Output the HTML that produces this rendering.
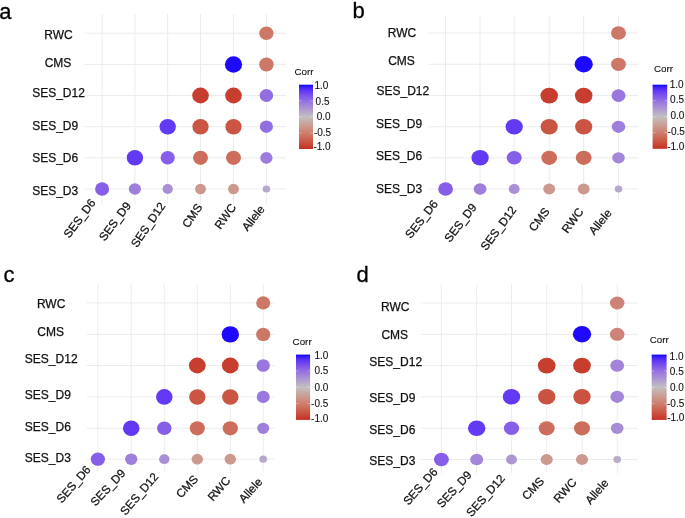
<!DOCTYPE html>
<html><head><meta charset="utf-8"><title>Correlation plots</title>
<style>html,body{margin:0;padding:0;background:#fff;width:685px;height:518px;overflow:hidden}svg{display:block;will-change:transform;filter:blur(0.4px)}</style>
</head><body>
<svg width="685" height="518" viewBox="0 0 685 518" font-family='"Liberation Sans", sans-serif'>
<rect width="685" height="518" fill="#fff"/>
<line x1="102.1" y1="14.0" x2="102.1" y2="204.9" stroke="#ececec" stroke-width="1.0"/>
<line x1="134.9" y1="14.0" x2="134.9" y2="204.9" stroke="#ececec" stroke-width="1.0"/>
<line x1="167.7" y1="14.0" x2="167.7" y2="204.9" stroke="#ececec" stroke-width="1.0"/>
<line x1="200.5" y1="14.0" x2="200.5" y2="204.9" stroke="#ececec" stroke-width="1.0"/>
<line x1="233.5" y1="14.0" x2="233.5" y2="204.9" stroke="#ececec" stroke-width="1.0"/>
<line x1="266.4" y1="14.0" x2="266.4" y2="204.9" stroke="#ececec" stroke-width="1.0"/>
<line x1="84.5" y1="33.2" x2="286.0" y2="33.2" stroke="#ececec" stroke-width="1.0"/>
<line x1="84.5" y1="64.5" x2="286.0" y2="64.5" stroke="#ececec" stroke-width="1.0"/>
<line x1="84.5" y1="95.5" x2="286.0" y2="95.5" stroke="#ececec" stroke-width="1.0"/>
<line x1="84.5" y1="126.7" x2="286.0" y2="126.7" stroke="#ececec" stroke-width="1.0"/>
<line x1="84.5" y1="157.8" x2="286.0" y2="157.8" stroke="#ececec" stroke-width="1.0"/>
<line x1="84.5" y1="189.0" x2="286.0" y2="189.0" stroke="#ececec" stroke-width="1.0"/>
<ellipse cx="266.4" cy="33.2" rx="7.14" ry="6.80" fill="#cd7766"/>
<ellipse cx="233.5" cy="64.5" rx="8.61" ry="8.20" fill="#1d0afe"/>
<ellipse cx="266.4" cy="64.5" rx="7.25" ry="6.90" fill="#cd7766"/>
<ellipse cx="200.5" cy="95.5" rx="8.29" ry="7.90" fill="#c73d2e"/>
<ellipse cx="233.5" cy="95.5" rx="8.29" ry="7.90" fill="#c73d2e"/>
<ellipse cx="266.4" cy="95.5" rx="6.77" ry="6.45" fill="#936ee2"/>
<ellipse cx="167.7" cy="126.7" rx="8.19" ry="7.80" fill="#623af4"/>
<ellipse cx="200.5" cy="126.7" rx="8.14" ry="7.75" fill="#ca5543"/>
<ellipse cx="233.5" cy="126.7" rx="8.14" ry="7.75" fill="#ca5543"/>
<ellipse cx="266.4" cy="126.7" rx="6.56" ry="6.25" fill="#936ee2"/>
<ellipse cx="134.9" cy="157.8" rx="8.19" ry="7.80" fill="#623af4"/>
<ellipse cx="167.7" cy="157.8" rx="7.14" ry="6.80" fill="#865ee8"/>
<ellipse cx="200.5" cy="157.8" rx="7.46" ry="7.10" fill="#cd6d5b"/>
<ellipse cx="233.5" cy="157.8" rx="7.51" ry="7.15" fill="#cd6d5b"/>
<ellipse cx="266.4" cy="157.8" rx="6.14" ry="5.85" fill="#9d7cdd"/>
<ellipse cx="102.1" cy="189.0" rx="6.98" ry="6.65" fill="#865ee8"/>
<ellipse cx="134.9" cy="189.0" rx="6.09" ry="5.80" fill="#9f7fdc"/>
<ellipse cx="167.7" cy="189.0" rx="5.15" ry="4.90" fill="#a98fd5"/>
<ellipse cx="200.5" cy="189.0" rx="5.46" ry="5.20" fill="#cb998e"/>
<ellipse cx="233.5" cy="189.0" rx="5.46" ry="5.20" fill="#cb998e"/>
<ellipse cx="266.4" cy="189.0" rx="3.78" ry="3.60" fill="#b6a8cb"/>
<text x="-0.84" y="18.99" font-size="22" fill="#000" stroke="#000" stroke-width="0.3">a</text>
<text x="44.32" y="38.80" font-size="12" fill="#111" stroke="#111" stroke-width="0.25">RWC</text>
<text x="44.69" y="66.90" font-size="12" fill="#111" stroke="#111" stroke-width="0.25">CMS</text>
<text x="32.16" y="97.00" font-size="12" fill="#111" stroke="#111" stroke-width="0.25">SES_D12</text>
<text x="32.16" y="130.00" font-size="12" fill="#111" stroke="#111" stroke-width="0.25">SES_D9</text>
<text x="32.16" y="162.10" font-size="12" fill="#111" stroke="#111" stroke-width="0.25">SES_D6</text>
<text x="32.16" y="194.60" font-size="12" fill="#111" stroke="#111" stroke-width="0.25">SES_D3</text>
<text transform="translate(96.17,202.91) rotate(-53.2)" text-anchor="end" font-size="11.7" fill="#111" stroke="#111" stroke-width="0.25">SES_D6</text>
<text transform="translate(131.51,205.68) rotate(-53.5)" text-anchor="end" font-size="11.7" fill="#111" stroke="#111" stroke-width="0.25">SES_D9</text>
<text transform="translate(165.86,205.85) rotate(-55.7)" text-anchor="end" font-size="11.7" fill="#111" stroke="#111" stroke-width="0.25">SES_D12</text>
<text transform="translate(202.81,207.11) rotate(-56.2)" text-anchor="end" font-size="11.7" fill="#111" stroke="#111" stroke-width="0.25">CMS</text>
<text transform="translate(236.57,207.49) rotate(-54.5)" text-anchor="end" font-size="11.7" fill="#111" stroke="#111" stroke-width="0.25">RWC</text>
<text transform="translate(265.26,209.40) rotate(-51.5)" text-anchor="end" font-size="11.7" fill="#111" stroke="#111" stroke-width="0.25">Allele</text>
<text x="294.40" y="74.60" font-size="9.8" fill="#111" stroke="#111" stroke-width="0.1">Corr</text>
<defs><linearGradient id="ga" x1="0" y1="0" x2="0" y2="1">
<stop offset="0.000" stop-color="#0000ff"/>
<stop offset="0.025" stop-color="#3116fc"/>
<stop offset="0.050" stop-color="#4624f9"/>
<stop offset="0.075" stop-color="#5530f7"/>
<stop offset="0.100" stop-color="#623af4"/>
<stop offset="0.125" stop-color="#6c43f1"/>
<stop offset="0.150" stop-color="#764cee"/>
<stop offset="0.175" stop-color="#7e55eb"/>
<stop offset="0.200" stop-color="#865ee8"/>
<stop offset="0.225" stop-color="#8d66e5"/>
<stop offset="0.250" stop-color="#936ee2"/>
<stop offset="0.275" stop-color="#9977df"/>
<stop offset="0.300" stop-color="#9f7fdc"/>
<stop offset="0.325" stop-color="#a487d8"/>
<stop offset="0.350" stop-color="#a98fd5"/>
<stop offset="0.375" stop-color="#ad97d2"/>
<stop offset="0.400" stop-color="#b29fce"/>
<stop offset="0.425" stop-color="#b6a8cb"/>
<stop offset="0.450" stop-color="#b9b0c7"/>
<stop offset="0.475" stop-color="#bdb8c4"/>
<stop offset="0.500" stop-color="#c0c0c0"/>
<stop offset="0.525" stop-color="#c3b9b7"/>
<stop offset="0.550" stop-color="#c5b3af"/>
<stop offset="0.575" stop-color="#c7aca7"/>
<stop offset="0.600" stop-color="#c9a69e"/>
<stop offset="0.625" stop-color="#ca9f96"/>
<stop offset="0.650" stop-color="#cb998e"/>
<stop offset="0.675" stop-color="#cc9286"/>
<stop offset="0.700" stop-color="#cd8b7e"/>
<stop offset="0.725" stop-color="#cd8476"/>
<stop offset="0.750" stop-color="#cd7e6e"/>
<stop offset="0.775" stop-color="#cd7766"/>
<stop offset="0.800" stop-color="#cd705e"/>
<stop offset="0.825" stop-color="#cc6857"/>
<stop offset="0.850" stop-color="#cc614f"/>
<stop offset="0.875" stop-color="#cb5947"/>
<stop offset="0.900" stop-color="#ca5240"/>
<stop offset="0.925" stop-color="#c94938"/>
<stop offset="0.950" stop-color="#c74131"/>
<stop offset="0.975" stop-color="#c63729"/>
<stop offset="1.000" stop-color="#c42c22"/>
</linearGradient></defs>
<rect x="299" y="84.7" width="14" height="64.3" fill="url(#ga)"/>
<line x1="299" y1="100.78" x2="301.80" y2="100.78" stroke="#fff" stroke-width="0.7" opacity="0.45"/>
<line x1="310.20" y1="100.78" x2="313.00" y2="100.78" stroke="#fff" stroke-width="0.7" opacity="0.45"/>
<line x1="299" y1="116.85" x2="301.80" y2="116.85" stroke="#fff" stroke-width="0.7" opacity="0.45"/>
<line x1="310.20" y1="116.85" x2="313.00" y2="116.85" stroke="#fff" stroke-width="0.7" opacity="0.45"/>
<line x1="299" y1="132.93" x2="301.80" y2="132.93" stroke="#fff" stroke-width="0.7" opacity="0.45"/>
<line x1="310.20" y1="132.93" x2="313.00" y2="132.93" stroke="#fff" stroke-width="0.7" opacity="0.45"/>
<text x="314.49" y="88.54" font-size="10" fill="#111" stroke="#111" stroke-width="0.1">1.0</text>
<text x="315.62" y="104.84" font-size="10" fill="#111" stroke="#111" stroke-width="0.1">0.5</text>
<text x="316.79" y="120.44" font-size="10" fill="#111" stroke="#111" stroke-width="0.1">0.0</text>
<text x="313.89" y="136.14" font-size="10" fill="#111" stroke="#111" stroke-width="0.1">-0.5</text>
<text x="313.46" y="150.04" font-size="10" fill="#111" stroke="#111" stroke-width="0.1">-1.0</text>
<line x1="445.6" y1="14.9" x2="445.6" y2="199.8" stroke="#ececec" stroke-width="1.0"/>
<line x1="480.1" y1="14.9" x2="480.1" y2="199.8" stroke="#ececec" stroke-width="1.0"/>
<line x1="514.2" y1="14.9" x2="514.2" y2="199.8" stroke="#ececec" stroke-width="1.0"/>
<line x1="549.2" y1="14.9" x2="549.2" y2="199.8" stroke="#ececec" stroke-width="1.0"/>
<line x1="583.7" y1="14.9" x2="583.7" y2="199.8" stroke="#ececec" stroke-width="1.0"/>
<line x1="618.5" y1="14.9" x2="618.5" y2="199.8" stroke="#ececec" stroke-width="1.0"/>
<line x1="428.3" y1="33.0" x2="638.5" y2="33.0" stroke="#ececec" stroke-width="1.0"/>
<line x1="428.3" y1="64.3" x2="638.5" y2="64.3" stroke="#ececec" stroke-width="1.0"/>
<line x1="428.3" y1="95.6" x2="638.5" y2="95.6" stroke="#ececec" stroke-width="1.0"/>
<line x1="428.3" y1="126.8" x2="638.5" y2="126.8" stroke="#ececec" stroke-width="1.0"/>
<line x1="428.3" y1="157.8" x2="638.5" y2="157.8" stroke="#ececec" stroke-width="1.0"/>
<line x1="428.3" y1="189.0" x2="638.5" y2="189.0" stroke="#ececec" stroke-width="1.0"/>
<ellipse cx="618.5" cy="33.0" rx="7.49" ry="6.75" fill="#cd7766"/>
<ellipse cx="583.7" cy="64.3" rx="9.10" ry="8.20" fill="#1d0afe"/>
<ellipse cx="618.5" cy="64.3" rx="7.38" ry="6.65" fill="#cd7766"/>
<ellipse cx="549.2" cy="95.6" rx="8.77" ry="7.90" fill="#c73d2e"/>
<ellipse cx="583.7" cy="95.6" rx="8.77" ry="7.90" fill="#c73d2e"/>
<ellipse cx="618.5" cy="95.6" rx="6.99" ry="6.30" fill="#9977df"/>
<ellipse cx="514.2" cy="126.8" rx="8.66" ry="7.80" fill="#623af4"/>
<ellipse cx="549.2" cy="126.8" rx="8.60" ry="7.75" fill="#ca5543"/>
<ellipse cx="583.7" cy="126.8" rx="8.60" ry="7.75" fill="#ca5543"/>
<ellipse cx="618.5" cy="126.8" rx="6.77" ry="6.10" fill="#9f7fdc"/>
<ellipse cx="480.1" cy="157.8" rx="8.66" ry="7.80" fill="#623af4"/>
<ellipse cx="514.2" cy="157.8" rx="7.55" ry="6.80" fill="#865ee8"/>
<ellipse cx="549.2" cy="157.8" rx="7.88" ry="7.10" fill="#cd6d5b"/>
<ellipse cx="583.7" cy="157.8" rx="7.94" ry="7.15" fill="#cd6d5b"/>
<ellipse cx="618.5" cy="157.8" rx="6.27" ry="5.65" fill="#a487d8"/>
<ellipse cx="445.6" cy="189.0" rx="7.38" ry="6.65" fill="#865ee8"/>
<ellipse cx="480.1" cy="189.0" rx="6.44" ry="5.80" fill="#9f7fdc"/>
<ellipse cx="514.2" cy="189.0" rx="5.44" ry="4.90" fill="#a98fd5"/>
<ellipse cx="549.2" cy="189.0" rx="5.99" ry="5.40" fill="#cb998e"/>
<ellipse cx="583.7" cy="189.0" rx="5.99" ry="5.40" fill="#cb998e"/>
<ellipse cx="618.5" cy="189.0" rx="3.77" ry="3.40" fill="#b6a8cb"/>
<text x="352.48" y="17.99" font-size="22" fill="#000" stroke="#000" stroke-width="0.3">b</text>
<text x="387.82" y="36.80" font-size="12" fill="#111" stroke="#111" stroke-width="0.25">RWC</text>
<text x="388.19" y="64.80" font-size="12" fill="#111" stroke="#111" stroke-width="0.25">CMS</text>
<text x="376.46" y="94.70" font-size="12" fill="#111" stroke="#111" stroke-width="0.25">SES_D12</text>
<text x="376.06" y="127.90" font-size="12" fill="#111" stroke="#111" stroke-width="0.25">SES_D9</text>
<text x="376.06" y="160.00" font-size="12" fill="#111" stroke="#111" stroke-width="0.25">SES_D6</text>
<text x="376.06" y="192.50" font-size="12" fill="#111" stroke="#111" stroke-width="0.25">SES_D3</text>
<text transform="translate(438.44,204.02) rotate(-52)" text-anchor="end" font-size="11.7" fill="#111" stroke="#111" stroke-width="0.25">SES_D6</text>
<text transform="translate(477.28,207.41) rotate(-52.7)" text-anchor="end" font-size="11.7" fill="#111" stroke="#111" stroke-width="0.25">SES_D9</text>
<text transform="translate(517.00,210.06) rotate(-53.2)" text-anchor="end" font-size="11.7" fill="#111" stroke="#111" stroke-width="0.25">SES_D12</text>
<text transform="translate(550.34,211.63) rotate(-52.7)" text-anchor="end" font-size="11.7" fill="#111" stroke="#111" stroke-width="0.25">CMS</text>
<text transform="translate(584.07,211.74) rotate(-53.2)" text-anchor="end" font-size="11.7" fill="#111" stroke="#111" stroke-width="0.25">RWC</text>
<text transform="translate(612.32,213.31) rotate(-50.7)" text-anchor="end" font-size="11.7" fill="#111" stroke="#111" stroke-width="0.25">Allele</text>
<text x="653.90" y="72.40" font-size="9.8" fill="#111" stroke="#111" stroke-width="0.1">Corr</text>
<defs><linearGradient id="gb" x1="0" y1="0" x2="0" y2="1">
<stop offset="0.000" stop-color="#0000ff"/>
<stop offset="0.025" stop-color="#3116fc"/>
<stop offset="0.050" stop-color="#4624f9"/>
<stop offset="0.075" stop-color="#5530f7"/>
<stop offset="0.100" stop-color="#623af4"/>
<stop offset="0.125" stop-color="#6c43f1"/>
<stop offset="0.150" stop-color="#764cee"/>
<stop offset="0.175" stop-color="#7e55eb"/>
<stop offset="0.200" stop-color="#865ee8"/>
<stop offset="0.225" stop-color="#8d66e5"/>
<stop offset="0.250" stop-color="#936ee2"/>
<stop offset="0.275" stop-color="#9977df"/>
<stop offset="0.300" stop-color="#9f7fdc"/>
<stop offset="0.325" stop-color="#a487d8"/>
<stop offset="0.350" stop-color="#a98fd5"/>
<stop offset="0.375" stop-color="#ad97d2"/>
<stop offset="0.400" stop-color="#b29fce"/>
<stop offset="0.425" stop-color="#b6a8cb"/>
<stop offset="0.450" stop-color="#b9b0c7"/>
<stop offset="0.475" stop-color="#bdb8c4"/>
<stop offset="0.500" stop-color="#c0c0c0"/>
<stop offset="0.525" stop-color="#c3b9b7"/>
<stop offset="0.550" stop-color="#c5b3af"/>
<stop offset="0.575" stop-color="#c7aca7"/>
<stop offset="0.600" stop-color="#c9a69e"/>
<stop offset="0.625" stop-color="#ca9f96"/>
<stop offset="0.650" stop-color="#cb998e"/>
<stop offset="0.675" stop-color="#cc9286"/>
<stop offset="0.700" stop-color="#cd8b7e"/>
<stop offset="0.725" stop-color="#cd8476"/>
<stop offset="0.750" stop-color="#cd7e6e"/>
<stop offset="0.775" stop-color="#cd7766"/>
<stop offset="0.800" stop-color="#cd705e"/>
<stop offset="0.825" stop-color="#cc6857"/>
<stop offset="0.850" stop-color="#cc614f"/>
<stop offset="0.875" stop-color="#cb5947"/>
<stop offset="0.900" stop-color="#ca5240"/>
<stop offset="0.925" stop-color="#c94938"/>
<stop offset="0.950" stop-color="#c74131"/>
<stop offset="0.975" stop-color="#c63729"/>
<stop offset="1.000" stop-color="#c42c22"/>
</linearGradient></defs>
<rect x="652.6" y="84.7" width="14.6" height="64.1" fill="url(#gb)"/>
<line x1="652.6" y1="100.72" x2="655.52" y2="100.72" stroke="#fff" stroke-width="0.7" opacity="0.45"/>
<line x1="664.28" y1="100.72" x2="667.20" y2="100.72" stroke="#fff" stroke-width="0.7" opacity="0.45"/>
<line x1="652.6" y1="116.75" x2="655.52" y2="116.75" stroke="#fff" stroke-width="0.7" opacity="0.45"/>
<line x1="664.28" y1="116.75" x2="667.20" y2="116.75" stroke="#fff" stroke-width="0.7" opacity="0.45"/>
<line x1="652.6" y1="132.78" x2="655.52" y2="132.78" stroke="#fff" stroke-width="0.7" opacity="0.45"/>
<line x1="664.28" y1="132.78" x2="667.20" y2="132.78" stroke="#fff" stroke-width="0.7" opacity="0.45"/>
<text x="669.69" y="88.14" font-size="10" fill="#111" stroke="#111" stroke-width="0.1">1.0</text>
<text x="670.12" y="102.84" font-size="10" fill="#111" stroke="#111" stroke-width="0.1">0.5</text>
<text x="670.49" y="119.44" font-size="10" fill="#111" stroke="#111" stroke-width="0.1">0.0</text>
<text x="667.59" y="135.24" font-size="10" fill="#111" stroke="#111" stroke-width="0.1">-0.5</text>
<text x="667.16" y="149.84" font-size="10" fill="#111" stroke="#111" stroke-width="0.1">-1.0</text>
<line x1="97.9" y1="284.4" x2="97.9" y2="471.2" stroke="#ececec" stroke-width="1.0"/>
<line x1="131.2" y1="284.4" x2="131.2" y2="471.2" stroke="#ececec" stroke-width="1.0"/>
<line x1="164.3" y1="284.4" x2="164.3" y2="471.2" stroke="#ececec" stroke-width="1.0"/>
<line x1="197.3" y1="284.4" x2="197.3" y2="471.2" stroke="#ececec" stroke-width="1.0"/>
<line x1="230.3" y1="284.4" x2="230.3" y2="471.2" stroke="#ececec" stroke-width="1.0"/>
<line x1="263.2" y1="284.4" x2="263.2" y2="471.2" stroke="#ececec" stroke-width="1.0"/>
<line x1="86.8" y1="302.9" x2="275.0" y2="302.9" stroke="#ececec" stroke-width="1.0"/>
<line x1="86.8" y1="334.4" x2="275.0" y2="334.4" stroke="#ececec" stroke-width="1.0"/>
<line x1="86.8" y1="365.5" x2="275.0" y2="365.5" stroke="#ececec" stroke-width="1.0"/>
<line x1="86.8" y1="396.9" x2="275.0" y2="396.9" stroke="#ececec" stroke-width="1.0"/>
<line x1="86.8" y1="428.3" x2="275.0" y2="428.3" stroke="#ececec" stroke-width="1.0"/>
<line x1="86.8" y1="459.2" x2="275.0" y2="459.2" stroke="#ececec" stroke-width="1.0"/>
<ellipse cx="263.2" cy="302.9" rx="7.00" ry="6.60" fill="#cd7766"/>
<ellipse cx="230.3" cy="334.4" rx="8.69" ry="8.20" fill="#1d0afe"/>
<ellipse cx="263.2" cy="334.4" rx="7.10" ry="6.70" fill="#cd7766"/>
<ellipse cx="197.3" cy="365.5" rx="8.37" ry="7.90" fill="#c73d2e"/>
<ellipse cx="230.3" cy="365.5" rx="8.37" ry="7.90" fill="#c73d2e"/>
<ellipse cx="263.2" cy="365.5" rx="6.68" ry="6.30" fill="#9977df"/>
<ellipse cx="164.3" cy="396.9" rx="8.27" ry="7.80" fill="#623af4"/>
<ellipse cx="197.3" cy="396.9" rx="8.21" ry="7.75" fill="#ca5543"/>
<ellipse cx="230.3" cy="396.9" rx="8.21" ry="7.75" fill="#ca5543"/>
<ellipse cx="263.2" cy="396.9" rx="6.47" ry="6.10" fill="#9977df"/>
<ellipse cx="131.2" cy="428.3" rx="8.27" ry="7.80" fill="#623af4"/>
<ellipse cx="164.3" cy="428.3" rx="7.21" ry="6.80" fill="#865ee8"/>
<ellipse cx="197.3" cy="428.3" rx="7.53" ry="7.10" fill="#cd6d5b"/>
<ellipse cx="230.3" cy="428.3" rx="7.58" ry="7.15" fill="#cd6d5b"/>
<ellipse cx="263.2" cy="428.3" rx="5.99" ry="5.65" fill="#9f7fdc"/>
<ellipse cx="97.9" cy="459.2" rx="7.05" ry="6.65" fill="#865ee8"/>
<ellipse cx="131.2" cy="459.2" rx="6.15" ry="5.80" fill="#9f7fdc"/>
<ellipse cx="164.3" cy="459.2" rx="5.19" ry="4.90" fill="#a98fd5"/>
<ellipse cx="197.3" cy="459.2" rx="5.72" ry="5.40" fill="#cb998e"/>
<ellipse cx="230.3" cy="459.2" rx="5.72" ry="5.40" fill="#cb998e"/>
<ellipse cx="263.2" cy="459.2" rx="3.82" ry="3.60" fill="#b6a8cb"/>
<text x="3.57" y="281.99" font-size="22" fill="#000" stroke="#000" stroke-width="0.3">c</text>
<text x="36.92" y="307.80" font-size="12" fill="#111" stroke="#111" stroke-width="0.25">RWC</text>
<text x="37.29" y="335.60" font-size="12" fill="#111" stroke="#111" stroke-width="0.25">CMS</text>
<text x="24.86" y="363.10" font-size="12" fill="#111" stroke="#111" stroke-width="0.25">SES_D12</text>
<text x="24.86" y="398.90" font-size="12" fill="#111" stroke="#111" stroke-width="0.25">SES_D9</text>
<text x="24.86" y="430.90" font-size="12" fill="#111" stroke="#111" stroke-width="0.25">SES_D6</text>
<text x="24.86" y="461.50" font-size="12" fill="#111" stroke="#111" stroke-width="0.25">SES_D3</text>
<text transform="translate(91.39,470.13) rotate(-48.7)" text-anchor="end" font-size="11.7" fill="#111" stroke="#111" stroke-width="0.25">SES_D6</text>
<text transform="translate(126.09,473.87) rotate(-47)" text-anchor="end" font-size="11.7" fill="#111" stroke="#111" stroke-width="0.25">SES_D9</text>
<text transform="translate(159.06,477.06) rotate(-49.2)" text-anchor="end" font-size="11.7" fill="#111" stroke="#111" stroke-width="0.25">SES_D12</text>
<text transform="translate(198.91,479.88) rotate(-46.5)" text-anchor="end" font-size="11.7" fill="#111" stroke="#111" stroke-width="0.25">CMS</text>
<text transform="translate(231.17,481.00) rotate(-48.7)" text-anchor="end" font-size="11.7" fill="#111" stroke="#111" stroke-width="0.25">RWC</text>
<text transform="translate(263.06,482.31) rotate(-48)" text-anchor="end" font-size="11.7" fill="#111" stroke="#111" stroke-width="0.25">Allele</text>
<text x="292.60" y="344.90" font-size="9.8" fill="#111" stroke="#111" stroke-width="0.1">Corr</text>
<defs><linearGradient id="gc" x1="0" y1="0" x2="0" y2="1">
<stop offset="0.000" stop-color="#0000ff"/>
<stop offset="0.025" stop-color="#3116fc"/>
<stop offset="0.050" stop-color="#4624f9"/>
<stop offset="0.075" stop-color="#5530f7"/>
<stop offset="0.100" stop-color="#623af4"/>
<stop offset="0.125" stop-color="#6c43f1"/>
<stop offset="0.150" stop-color="#764cee"/>
<stop offset="0.175" stop-color="#7e55eb"/>
<stop offset="0.200" stop-color="#865ee8"/>
<stop offset="0.225" stop-color="#8d66e5"/>
<stop offset="0.250" stop-color="#936ee2"/>
<stop offset="0.275" stop-color="#9977df"/>
<stop offset="0.300" stop-color="#9f7fdc"/>
<stop offset="0.325" stop-color="#a487d8"/>
<stop offset="0.350" stop-color="#a98fd5"/>
<stop offset="0.375" stop-color="#ad97d2"/>
<stop offset="0.400" stop-color="#b29fce"/>
<stop offset="0.425" stop-color="#b6a8cb"/>
<stop offset="0.450" stop-color="#b9b0c7"/>
<stop offset="0.475" stop-color="#bdb8c4"/>
<stop offset="0.500" stop-color="#c0c0c0"/>
<stop offset="0.525" stop-color="#c3b9b7"/>
<stop offset="0.550" stop-color="#c5b3af"/>
<stop offset="0.575" stop-color="#c7aca7"/>
<stop offset="0.600" stop-color="#c9a69e"/>
<stop offset="0.625" stop-color="#ca9f96"/>
<stop offset="0.650" stop-color="#cb998e"/>
<stop offset="0.675" stop-color="#cc9286"/>
<stop offset="0.700" stop-color="#cd8b7e"/>
<stop offset="0.725" stop-color="#cd8476"/>
<stop offset="0.750" stop-color="#cd7e6e"/>
<stop offset="0.775" stop-color="#cd7766"/>
<stop offset="0.800" stop-color="#cd705e"/>
<stop offset="0.825" stop-color="#cc6857"/>
<stop offset="0.850" stop-color="#cc614f"/>
<stop offset="0.875" stop-color="#cb5947"/>
<stop offset="0.900" stop-color="#ca5240"/>
<stop offset="0.925" stop-color="#c94938"/>
<stop offset="0.950" stop-color="#c74131"/>
<stop offset="0.975" stop-color="#c63729"/>
<stop offset="1.000" stop-color="#c42c22"/>
</linearGradient></defs>
<rect x="296" y="354.6" width="14.1" height="65.3" fill="url(#gc)"/>
<line x1="296" y1="370.93" x2="298.82" y2="370.93" stroke="#fff" stroke-width="0.7" opacity="0.45"/>
<line x1="307.28" y1="370.93" x2="310.10" y2="370.93" stroke="#fff" stroke-width="0.7" opacity="0.45"/>
<line x1="296" y1="387.25" x2="298.82" y2="387.25" stroke="#fff" stroke-width="0.7" opacity="0.45"/>
<line x1="307.28" y1="387.25" x2="310.10" y2="387.25" stroke="#fff" stroke-width="0.7" opacity="0.45"/>
<line x1="296" y1="403.58" x2="298.82" y2="403.58" stroke="#fff" stroke-width="0.7" opacity="0.45"/>
<line x1="307.28" y1="403.58" x2="310.10" y2="403.58" stroke="#fff" stroke-width="0.7" opacity="0.45"/>
<text x="314.39" y="359.14" font-size="10" fill="#111" stroke="#111" stroke-width="0.1">1.0</text>
<text x="314.42" y="374.44" font-size="10" fill="#111" stroke="#111" stroke-width="0.1">0.5</text>
<text x="314.39" y="391.04" font-size="10" fill="#111" stroke="#111" stroke-width="0.1">0.0</text>
<text x="311.09" y="406.54" font-size="10" fill="#111" stroke="#111" stroke-width="0.1">-0.5</text>
<text x="311.06" y="422.04" font-size="10" fill="#111" stroke="#111" stroke-width="0.1">-1.0</text>
<line x1="441.4" y1="284.4" x2="441.4" y2="473.1" stroke="#ececec" stroke-width="1.0"/>
<line x1="476.7" y1="284.4" x2="476.7" y2="473.1" stroke="#ececec" stroke-width="1.0"/>
<line x1="511.5" y1="284.4" x2="511.5" y2="473.1" stroke="#ececec" stroke-width="1.0"/>
<line x1="546.7" y1="284.4" x2="546.7" y2="473.1" stroke="#ececec" stroke-width="1.0"/>
<line x1="582.0" y1="284.4" x2="582.0" y2="473.1" stroke="#ececec" stroke-width="1.0"/>
<line x1="617.2" y1="284.4" x2="617.2" y2="473.1" stroke="#ececec" stroke-width="1.0"/>
<line x1="420.9" y1="303.0" x2="637.6" y2="303.0" stroke="#ececec" stroke-width="1.0"/>
<line x1="420.9" y1="334.3" x2="637.6" y2="334.3" stroke="#ececec" stroke-width="1.0"/>
<line x1="420.9" y1="365.6" x2="637.6" y2="365.6" stroke="#ececec" stroke-width="1.0"/>
<line x1="420.9" y1="396.8" x2="637.6" y2="396.8" stroke="#ececec" stroke-width="1.0"/>
<line x1="420.9" y1="428.3" x2="637.6" y2="428.3" stroke="#ececec" stroke-width="1.0"/>
<line x1="420.9" y1="459.5" x2="637.6" y2="459.5" stroke="#ececec" stroke-width="1.0"/>
<ellipse cx="617.2" cy="303.0" rx="7.28" ry="6.50" fill="#cd8476"/>
<ellipse cx="582.0" cy="334.3" rx="9.18" ry="8.20" fill="#1d0afe"/>
<ellipse cx="617.2" cy="334.3" rx="7.28" ry="6.50" fill="#cd8476"/>
<ellipse cx="546.7" cy="365.6" rx="8.85" ry="7.90" fill="#c73d2e"/>
<ellipse cx="582.0" cy="365.6" rx="8.85" ry="7.90" fill="#c73d2e"/>
<ellipse cx="617.2" cy="365.6" rx="6.94" ry="6.20" fill="#a284da"/>
<ellipse cx="511.5" cy="396.8" rx="8.74" ry="7.80" fill="#623af4"/>
<ellipse cx="546.7" cy="396.8" rx="8.68" ry="7.75" fill="#ca5240"/>
<ellipse cx="582.0" cy="396.8" rx="8.68" ry="7.75" fill="#ca5240"/>
<ellipse cx="617.2" cy="396.8" rx="6.83" ry="6.10" fill="#a487d8"/>
<ellipse cx="476.7" cy="428.3" rx="8.74" ry="7.80" fill="#623af4"/>
<ellipse cx="511.5" cy="428.3" rx="7.62" ry="6.80" fill="#865ee8"/>
<ellipse cx="546.7" cy="428.3" rx="7.95" ry="7.10" fill="#cd6d5b"/>
<ellipse cx="582.0" cy="428.3" rx="8.01" ry="7.15" fill="#cd6d5b"/>
<ellipse cx="617.2" cy="428.3" rx="6.33" ry="5.65" fill="#a78cd6"/>
<ellipse cx="441.4" cy="459.5" rx="7.45" ry="6.65" fill="#865ee8"/>
<ellipse cx="476.7" cy="459.5" rx="6.50" ry="5.80" fill="#a487d8"/>
<ellipse cx="511.5" cy="459.5" rx="5.49" ry="4.90" fill="#ad97d2"/>
<ellipse cx="546.7" cy="459.5" rx="6.05" ry="5.40" fill="#cb998e"/>
<ellipse cx="582.0" cy="459.5" rx="6.05" ry="5.40" fill="#cb998e"/>
<ellipse cx="617.2" cy="459.5" rx="3.86" ry="3.45" fill="#b8acc9"/>
<text x="356.38" y="281.99" font-size="22" fill="#000" stroke="#000" stroke-width="0.3">d</text>
<text x="381.02" y="310.50" font-size="12" fill="#111" stroke="#111" stroke-width="0.25">RWC</text>
<text x="381.39" y="338.60" font-size="12" fill="#111" stroke="#111" stroke-width="0.25">CMS</text>
<text x="369.36" y="366.40" font-size="12" fill="#111" stroke="#111" stroke-width="0.25">SES_D12</text>
<text x="369.36" y="401.70" font-size="12" fill="#111" stroke="#111" stroke-width="0.25">SES_D9</text>
<text x="369.36" y="433.80" font-size="12" fill="#111" stroke="#111" stroke-width="0.25">SES_D6</text>
<text x="369.36" y="464.60" font-size="12" fill="#111" stroke="#111" stroke-width="0.25">SES_D3</text>
<text transform="translate(438.26,472.28) rotate(-48.2)" text-anchor="end" font-size="11.7" fill="#111" stroke="#111" stroke-width="0.25">SES_D6</text>
<text transform="translate(472.27,475.36) rotate(-47.5)" text-anchor="end" font-size="11.7" fill="#111" stroke="#111" stroke-width="0.25">SES_D9</text>
<text transform="translate(505.50,478.88) rotate(-48.7)" text-anchor="end" font-size="11.7" fill="#111" stroke="#111" stroke-width="0.25">SES_D12</text>
<text transform="translate(544.88,481.79) rotate(-46.7)" text-anchor="end" font-size="11.7" fill="#111" stroke="#111" stroke-width="0.25">CMS</text>
<text transform="translate(577.34,482.80) rotate(-48.2)" text-anchor="end" font-size="11.7" fill="#111" stroke="#111" stroke-width="0.25">RWC</text>
<text transform="translate(609.19,483.40) rotate(-49)" text-anchor="end" font-size="11.7" fill="#111" stroke="#111" stroke-width="0.25">Allele</text>
<text x="649.70" y="343.10" font-size="9.8" fill="#111" stroke="#111" stroke-width="0.1">Corr</text>
<defs><linearGradient id="gd" x1="0" y1="0" x2="0" y2="1">
<stop offset="0.000" stop-color="#0000ff"/>
<stop offset="0.025" stop-color="#3116fc"/>
<stop offset="0.050" stop-color="#4624f9"/>
<stop offset="0.075" stop-color="#5530f7"/>
<stop offset="0.100" stop-color="#623af4"/>
<stop offset="0.125" stop-color="#6c43f1"/>
<stop offset="0.150" stop-color="#764cee"/>
<stop offset="0.175" stop-color="#7e55eb"/>
<stop offset="0.200" stop-color="#865ee8"/>
<stop offset="0.225" stop-color="#8d66e5"/>
<stop offset="0.250" stop-color="#936ee2"/>
<stop offset="0.275" stop-color="#9977df"/>
<stop offset="0.300" stop-color="#9f7fdc"/>
<stop offset="0.325" stop-color="#a487d8"/>
<stop offset="0.350" stop-color="#a98fd5"/>
<stop offset="0.375" stop-color="#ad97d2"/>
<stop offset="0.400" stop-color="#b29fce"/>
<stop offset="0.425" stop-color="#b6a8cb"/>
<stop offset="0.450" stop-color="#b9b0c7"/>
<stop offset="0.475" stop-color="#bdb8c4"/>
<stop offset="0.500" stop-color="#c0c0c0"/>
<stop offset="0.525" stop-color="#c3b9b7"/>
<stop offset="0.550" stop-color="#c5b3af"/>
<stop offset="0.575" stop-color="#c7aca7"/>
<stop offset="0.600" stop-color="#c9a69e"/>
<stop offset="0.625" stop-color="#ca9f96"/>
<stop offset="0.650" stop-color="#cb998e"/>
<stop offset="0.675" stop-color="#cc9286"/>
<stop offset="0.700" stop-color="#cd8b7e"/>
<stop offset="0.725" stop-color="#cd8476"/>
<stop offset="0.750" stop-color="#cd7e6e"/>
<stop offset="0.775" stop-color="#cd7766"/>
<stop offset="0.800" stop-color="#cd705e"/>
<stop offset="0.825" stop-color="#cc6857"/>
<stop offset="0.850" stop-color="#cc614f"/>
<stop offset="0.875" stop-color="#cb5947"/>
<stop offset="0.900" stop-color="#ca5240"/>
<stop offset="0.925" stop-color="#c94938"/>
<stop offset="0.950" stop-color="#c74131"/>
<stop offset="0.975" stop-color="#c63729"/>
<stop offset="1.000" stop-color="#c42c22"/>
</linearGradient></defs>
<rect x="651.7" y="354.6" width="14.9" height="65.3" fill="url(#gd)"/>
<line x1="651.7" y1="370.93" x2="654.68" y2="370.93" stroke="#fff" stroke-width="0.7" opacity="0.45"/>
<line x1="663.62" y1="370.93" x2="666.60" y2="370.93" stroke="#fff" stroke-width="0.7" opacity="0.45"/>
<line x1="651.7" y1="387.25" x2="654.68" y2="387.25" stroke="#fff" stroke-width="0.7" opacity="0.45"/>
<line x1="663.62" y1="387.25" x2="666.60" y2="387.25" stroke="#fff" stroke-width="0.7" opacity="0.45"/>
<line x1="651.7" y1="403.58" x2="654.68" y2="403.58" stroke="#fff" stroke-width="0.7" opacity="0.45"/>
<line x1="663.62" y1="403.58" x2="666.60" y2="403.58" stroke="#fff" stroke-width="0.7" opacity="0.45"/>
<text x="669.59" y="359.54" font-size="10" fill="#111" stroke="#111" stroke-width="0.1">1.0</text>
<text x="669.82" y="375.04" font-size="10" fill="#111" stroke="#111" stroke-width="0.1">0.5</text>
<text x="669.99" y="391.44" font-size="10" fill="#111" stroke="#111" stroke-width="0.1">0.0</text>
<text x="666.99" y="406.54" font-size="10" fill="#111" stroke="#111" stroke-width="0.1">-0.5</text>
<text x="667.16" y="421.44" font-size="10" fill="#111" stroke="#111" stroke-width="0.1">-1.0</text>
</svg>
</body></html>
